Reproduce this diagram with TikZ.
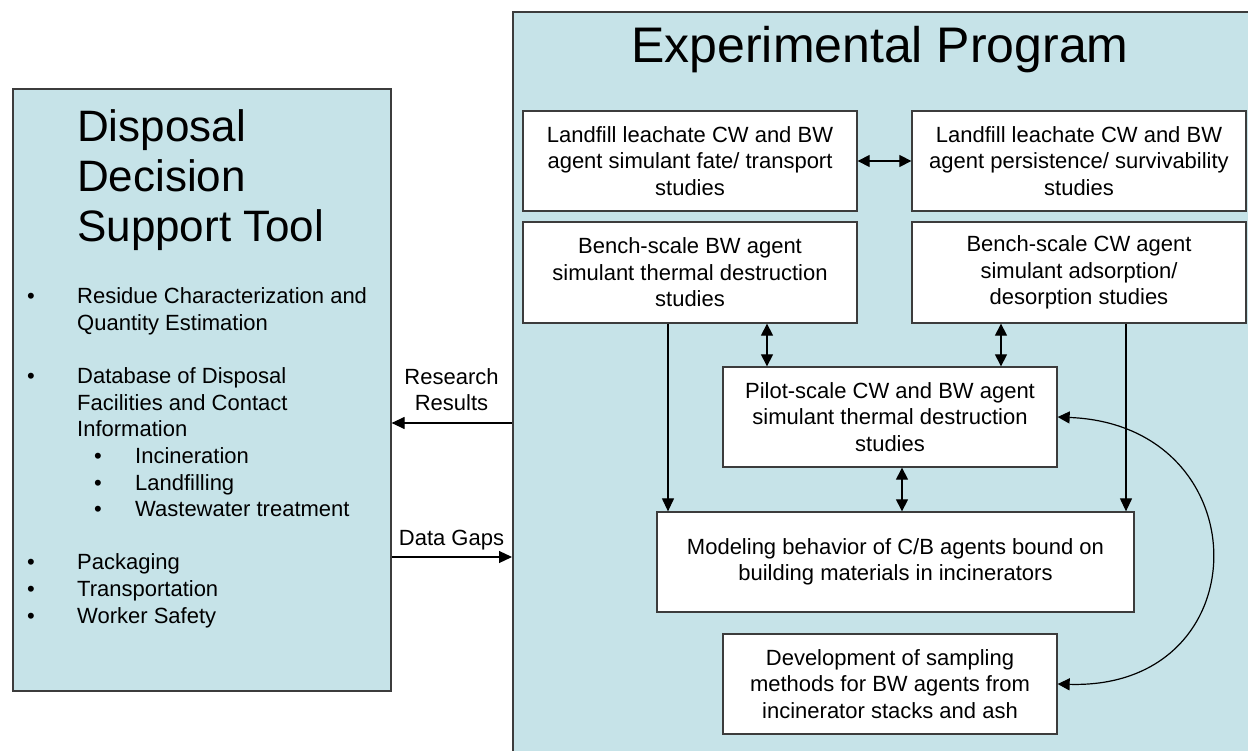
\documentclass[tikz,border=0pt]{standalone}
\usepackage{fontspec}
\setmainfont{Liberation Sans}
\usetikzlibrary{arrows.meta}
\definecolor{panelblue}{RGB}{198,227,232}
\definecolor{edgegray}{RGB}{60,60,60}
\newcommand\dbul{\makebox[50pt][l]{\textbullet}}
\newcommand\dind{\hspace*{50pt}}
\newcommand\dsub{\hspace*{67pt}\makebox[41pt][l]{\textbullet}}
\begin{document}
\begin{tikzpicture}[x=1pt,y=-1pt,
  panel/.style={draw=edgegray, line width=1.6pt, fill=panelblue, inner sep=0pt, anchor=north west},
  studybox/.style={draw=edgegray, line width=1.3pt, fill=white, minimum width=334pt, minimum height=100pt,
    align=center, inner sep=0pt, font=\fontsize{22}{26.5}\selectfont},
  tip/.style={-{Triangle[length=13pt,width=12pt]}},
  dtip/.style={{Triangle[length=12pt,width=12pt]}-{Triangle[length=12pt,width=12pt]}},
  conn/.style={line width=1.2pt, draw=black},
  lbl/.style={font=\fontsize{22}{26.5}\selectfont, inner sep=0pt, align=center}]
\useasboundingbox (0,0) rectangle (1248,751);
\fill[white] (0,0) rectangle (1248,751);
\clip (0,0) rectangle (1248,751);

% panels
\node[panel, minimum width=378pt, minimum height=602pt] (dst) at (12,88) {};
\node[panel, minimum width=770pt, minimum height=780pt] (exp) at (512,11) {};

% left panel texts
\node[anchor=base west, inner sep=0pt] (dsttitle) at (77,142)
  {\parbox[t]{300pt}{\raggedright\fontsize{44}{50}\selectfont Disposal\\Decision\\Support Tool}};
\node[anchor=base west, inner sep=0pt] (dstlist) at (27,304)
  {\parbox[t]{362pt}{\raggedright\fontsize{22}{26.6}\selectfont
  \dbul Residue Characterization and\\
  \dind Quantity Estimation\\[26.6pt]
  \dbul Database of Disposal\\
  \dind Facilities and Contact\\
  \dind Information\\
  \dsub Incineration\\
  \dsub Landfilling\\
  \dsub Wastewater treatment\\[26.6pt]
  \dbul Packaging\\
  \dbul Transportation\\
  \dbul Worker Safety}};

% right panel title
\node[anchor=base, inner sep=0pt, font=\fontsize{50}{56}\selectfont] (exptitle) at (880,63) {Experimental Program};

% study boxes
\node[studybox] (ll1) at (690,161) {Landfill leachate CW and BW\\agent simulant fate/ transport\\studies};
\node[studybox] (ll2) at (1079,161) {Landfill leachate CW and BW\\agent persistence/ survivability\\studies};
\node[studybox, minimum height=101pt] (bbw) at (690,272.5) {Bench-scale BW agent\\simulant thermal destruction\\studies};
\node[studybox, minimum height=101pt] (bcw) at (1079,272.5) {Bench-scale CW agent\\simulant adsorption/\\desorption studies};
\node[studybox] (pilot) at (890,417) {Pilot-scale CW and BW agent\\simulant thermal destruction\\studies};
\node[studybox, minimum width=477pt] (model) at (895.5,562) {Modeling behavior of C/B agents bound on\\building materials in incinerators};
\node[studybox] (dev) at (890,684) {Development of sampling\\methods for BW agents from\\incinerator stacks and ash};

% helper coordinates
\coordinate (xa) at (668,0);
\coordinate (xb) at (767,0);
\coordinate (xc) at (1001,0);
\coordinate (xd) at (1126,0);
\coordinate (xe) at (902,0);
\coordinate (yr) at (0,423);
\coordinate (yd) at (0,557);

% connectors
\draw[conn,dtip] (ll1) -- (ll2);
\draw[conn,tip] (bbw.south -| xa) -- (model.north -| xa);
\draw[conn,dtip] (bbw.south -| xb) -- (pilot.north -| xb);
\draw[conn,dtip] (bcw.south -| xc) -- (pilot.north -| xc);
\draw[conn,tip] (bcw.south -| xd) -- (model.north -| xd);
\draw[conn,dtip] (pilot.south -| xe) -- (model.north -| xe);
\draw[conn,dtip] (pilot.east) .. controls (1262,425) and (1262,690) .. (dev.east);

\draw[conn,tip] (exp.west |- yr) -- (dst.east |- yr);
\draw[conn,tip] (dst.east |- yd) -- (exp.west |- yd);
\node[lbl] (rr) at (451.5,389.5) {Research\\Results};
\node[lbl, anchor=base] (dg) at (451.5,545) {Data Gaps};
\end{tikzpicture}
\end{document}
